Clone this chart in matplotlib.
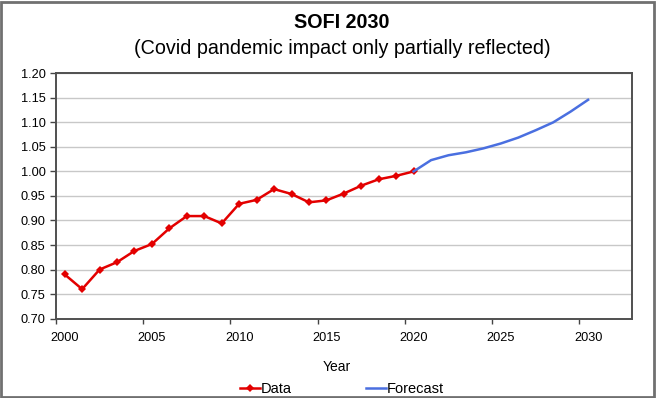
import matplotlib.pyplot as plt
from matplotlib.patches import Rectangle
from matplotlib.ticker import FixedLocator, NullFormatter, FormatStrFormatter

plt.rcParams['font.family'] = ['Liberation Sans', 'DejaVu Sans']

data_years = list(range(2000, 2021))
data_values = [0.790, 0.760, 0.800, 0.815, 0.838, 0.852, 0.884, 0.909, 0.909, 0.894,
               0.934, 0.942, 0.964, 0.954, 0.937, 0.941, 0.955, 0.971, 0.984, 0.991, 1.000]

forecast_years = list(range(2020, 2031))
forecast_values = [1.000, 1.023, 1.033, 1.039, 1.047, 1.057, 1.069, 1.084, 1.100, 1.122, 1.146]

year_labels = [2000, 2005, 2010, 2015, 2020, 2025, 2030]

fig = plt.figure(figsize=(6.57, 3.98), dpi=100)
ax = fig.add_axes([0.0852, 0.1995, 0.8763, 0.6163])

red = '#e30000'
blue = '#4a6fe0'

ax.plot(data_years, data_values, color=red, lw=1.8, marker='D', ms=4.5, mew=0, label='Data', zorder=3)
ax.plot(forecast_years, forecast_values, color=blue, lw=1.8, label='Forecast', zorder=4)

ax.set_xlim(1999.5, 2032.5)
ax.set_ylim(0.70, 1.20)
ax.set_yticks([0.70 + 0.05 * i for i in range(11)])
ax.yaxis.set_major_formatter(FormatStrFormatter('%.2f'))

# tick marks sit between categories, labels sit on the category
ax.xaxis.set_major_locator(FixedLocator([y - 0.5 for y in year_labels]))
ax.xaxis.set_major_formatter(NullFormatter())
ax.xaxis.set_minor_locator(FixedLocator(year_labels))
ax.set_xticklabels([str(y) for y in year_labels], minor=True)
ax.tick_params(axis='x', which='minor', length=0, pad=10, labelsize=9.2)
ax.tick_params(axis='x', which='major', length=3.5, width=1, color='#444444', direction='out')
ax.tick_params(axis='y', length=4.5, width=1, color='#444444', pad=3, labelsize=9.2)

ax.grid(axis='y', color='#c8c8c8', lw=1)
ax.set_axisbelow(True)
for s in ax.spines.values():
    s.set_color('#505050')
    s.set_linewidth(1.4)

fig.text(0.5205, 1 - 28 / 398, 'SOFI 2030', ha='center', va='baseline', fontsize=14.2, fontweight='bold')
fig.text(0.5205, 1 - 54 / 398, '(Covid pandemic impact only partially reflected)', ha='center',
         va='baseline', fontsize=14.2)
fig.text(337 / 657, 1 - 371 / 398, 'Year', ha='center', va='baseline', fontsize=10)

fig.legend(loc='center', bbox_to_anchor=(342 / 657, 1 - 389 / 398), ncol=2, frameon=False,
           fontsize=10.5, handlelength=1.37, handletextpad=0.1, columnspacing=5.05)

fig.patches.append(Rectangle((0.002, 0.003), 0.994, 0.993, transform=fig.transFigure,
                             fill=False, edgecolor='#707070', lw=2))

fig.savefig('out.png', dpi=100)
